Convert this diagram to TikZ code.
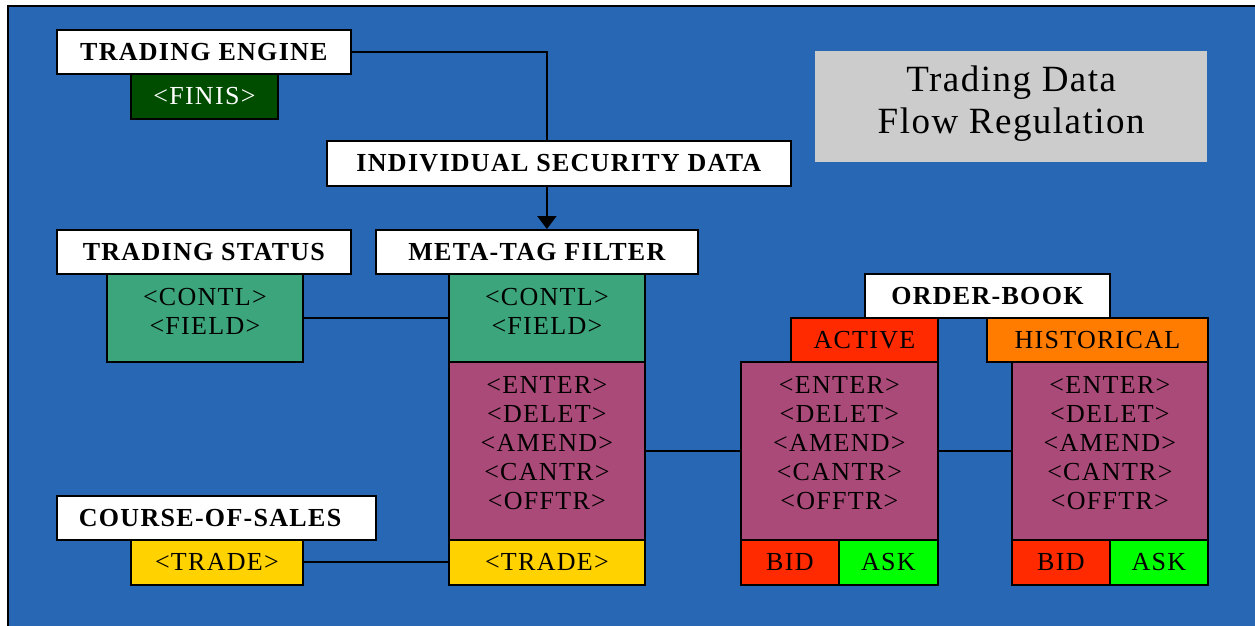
\documentclass[tikz,border=0pt]{standalone}
\usepackage{fontspec}
\setmainfont{Liberation Serif}
\newfontfamily\hdrfont{Liberation Serif}[LetterSpace=5]
\newfontfamily\tagfont{Liberation Serif}[LetterSpace=5]
\newfontfamily\titlefont{Liberation Serif}[LetterSpace=4]
\usetikzlibrary{arrows.meta}

\definecolor{bgblue}{RGB}{39,103,180}
\definecolor{tealgreen}{RGB}{61,165,123}
\definecolor{plum}{RGB}{170,74,120}
\definecolor{gold}{RGB}{255,210,0}
\definecolor{darkgreen}{RGB}{0,77,0}
\definecolor{redbox}{RGB}{255,42,0}
\definecolor{orangebox}{RGB}{255,124,0}
\definecolor{limebox}{RGB}{0,255,0}
\definecolor{greybox}{RGB}{204,204,204}

\tikzset{   boxbase/.style={draw=black,line width=1.8pt,inner sep=0pt,anchor=north west,align=center,font=\tagfont\fontsize{26}{29}\selectfont},
            hdrwhite/.style={boxbase,fill=white,font=\hdrfont\bfseries\fontsize{26}{28}\selectfont},
            tagdark/.style={boxbase,fill=darkgreen,text=white},
            taggreen/.style={boxbase,fill=tealgreen,text depth=14pt},
            tagplum/.style={boxbase,fill=plum,text depth=15pt},
            taggold/.style={boxbase,fill=gold},
            tagred/.style={boxbase,fill=redbox},
            tagorange/.style={boxbase,fill=orangebox},
            taglime/.style={boxbase,fill=limebox},
            titlebox/.style={fill=greybox,inner sep=0pt,anchor=north west,align=center,text depth=14pt,font=\titlefont\fontsize{37}{42}\selectfont},
            wire/.style={draw=black,line width=2pt},
}

\begin{document}
\begin{tikzpicture}[x=1pt,y=-1pt]
    \useasboundingbox (0,0) rectangle (1255,626);
    \fill[bgblue] (8,6) rectangle (1262,632); % background
    \draw[line width=2pt] (8,632) -- (8,6) -- (1262,6); % frame

    \node[titlebox,minimum width=392pt,minimum height=111pt] (title) at (815,51) {Trading Data\\Flow Regulation};

    \node[tagdark,minimum width=147pt,minimum height=45pt] (finis) at (130,73) {<FINIS>}; % engine
    \node[hdrwhite,minimum width=294pt,minimum height=44pt] (te) at (56,29) {TRADING ENGINE};
    \node[hdrwhite,minimum width=464pt,minimum height=45pt] (isd) at (326,140) {INDIVIDUAL SECURITY DATA};

    \node[hdrwhite,minimum width=294pt,minimum height=44pt] (ts) at (56,229) {TRADING STATUS}; % status
    \node[taggreen,minimum width=196pt,minimum height=88pt] (tsfld) at (106,273) {<CONTL>\\<FIELD>};

    \node[hdrwhite,minimum width=322pt,minimum height=44pt] (mtf) at (375,229) {META-TAG FILTER}; % filter
    \node[taggreen,minimum width=196pt,minimum height=88pt] (mtfld) at (448,273) {<CONTL>\\<FIELD>};
    \node[tagplum,minimum width=196pt,minimum height=178pt] (mtord) at (448,361) {<ENTER>\\<DELET>\\<AMEND>\\<CANTR>\\<OFFTR>};
    \node[taggold,minimum width=196pt,minimum height=45pt] (mttrd) at (448,539) {<TRADE>};

    \node[hdrwhite,minimum width=319pt,minimum height=44pt,text width=275pt,align=left] (cos) at (56,495) {COURSE-OF-SALES}; % sales
    \node[taggold,minimum width=172pt,minimum height=45pt] (costrd) at (130,539) {<TRADE>};

    \node[hdrwhite,minimum width=245pt,minimum height=44pt] (ob) at (864,273) {ORDER-BOOK}; % order book
    \node[tagred,minimum width=147pt,minimum height=44pt] (act) at (790,317) {ACTIVE};
    \node[tagorange,minimum width=221pt,minimum height=44pt] (hist) at (986,317) {HISTORICAL};
    \node[tagplum,minimum width=197pt,minimum height=178pt] (actord) at (740,361) {<ENTER>\\<DELET>\\<AMEND>\\<CANTR>\\<OFFTR>};
    \node[tagplum,minimum width=196pt,minimum height=178pt] (histord) at (1011,361) {<ENTER>\\<DELET>\\<AMEND>\\<CANTR>\\<OFFTR>};
    \node[tagred,minimum width=98pt,minimum height=45pt] (actbid) at (740,539) {BID};
    \node[taglime,minimum width=99pt,minimum height=45pt] (actask) at (838,539) {ASK};
    \node[tagred,minimum width=98pt,minimum height=45pt] (histbid) at (1011,539) {BID};
    \node[taglime,minimum width=98pt,minimum height=45pt] (histask) at (1109,539) {ASK};

    \draw[wire] (te.east) -| ([xshift=-12pt]isd.north); % connectors
    \draw[wire,-{Triangle[width=19pt,length=13pt]}] ([xshift=-12pt]isd.south) -- ([xshift=10pt]mtf.north);
    \draw[wire] (tsfld.east) -- (mtfld.west);
    \draw[wire] (costrd.east) -- (mttrd.west);
    \draw[wire] (mtord.east) -- (actord.west);
    \draw[wire] (actord.east) -- (histord.west);
\end{tikzpicture}
\end{document}
